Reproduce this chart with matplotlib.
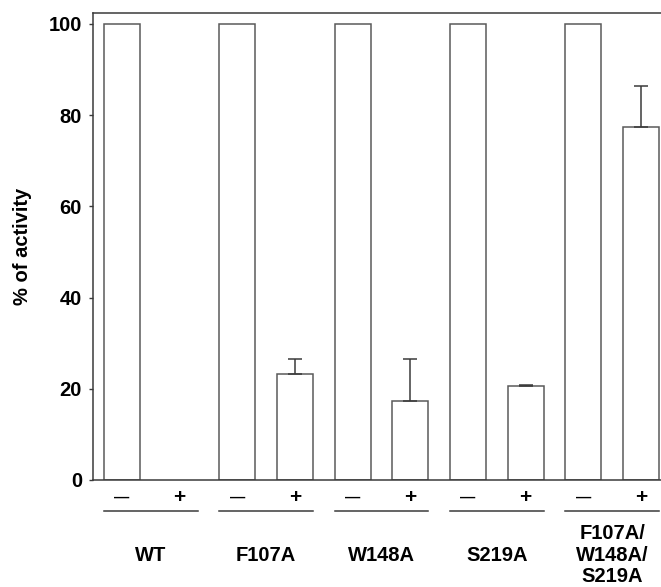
# % de actividad por mutante, sin (−) y con (+) tratamiento
import numpy as np
import matplotlib
matplotlib.use("Agg")
import matplotlib.pyplot as plt

# datos
grupos = ["WT", "F107A", "W148A", "S219A", "F107A/\nW148A/\nS219A"]
menos = [100, 100, 100, 100, 100]
mas = [0, 23.3, 17.3, 20.5, 77.4]
mas_err = [0, 3.3, 9.3, 0.4, 9.0]
signos = ["\u2014", "+"]
yticks = [0, 20, 40, 60, 80, 100]

plt.rcParams["font.family"] = ["Liberation Sans", "DejaVu Sans"]
plt.rcParams["font.weight"] = "bold"

fig = plt.figure(figsize=(6.61, 5.87), dpi=100)
ax = fig.add_axes([0.1407, 0.1823, 0.8593, 0.7956])

x = np.arange(len(grupos))
off = 0.25
w = 0.313
col_borde = "#5a5a5a"
col_eje = "#3a3a3a"

ax.bar(x - off, menos, width=w, color="white", edgecolor=col_borde, linewidth=1.1)
mask = np.array(mas) > 0
ax.bar(x[mask] + off, np.array(mas)[mask], width=w, color="white",
       edgecolor=col_borde, linewidth=1.1)
ax.errorbar(x[mask] + off, np.array(mas)[mask],
            yerr=[np.zeros(mask.sum()), np.array(mas_err)[mask]],
            fmt="none", ecolor=col_eje, elinewidth=1.1, capsize=5, capthick=1.1)

ax.set_xlim(-0.5015, 4.4235)
ax.set_ylim(0, 102.4)
ax.set_yticks(yticks)
ax.set_xticks([])
ax.tick_params(axis="y", direction="out", length=3, width=1, color=col_eje,
               labelsize=14.5, pad=5)
for lbl in ax.get_yticklabels():
    lbl.set_fontweight("bold")

for s in ["left", "top", "bottom"]:
    ax.spines[s].set_color(col_eje)
    ax.spines[s].set_linewidth(1.1)
ax.spines["right"].set_visible(False)

ax.set_ylabel("% of activity", fontsize=14.5, fontweight="bold")
ax.yaxis.set_label_coords(-0.1074, 0.5)

# etiquetas bajo el eje: signos, lineas de grupo y nombres
trans = ax.get_xaxis_transform()
for i, g in enumerate(grupos):
    ax.text(i - off, -0.039, signos[0], transform=trans, ha="center", va="center",
            fontsize=11, fontweight="bold")
    ax.text(i + off, -0.038, signos[1], transform=trans, ha="center", va="center",
            fontsize=15, fontweight="bold")
    ax.plot([i - off - w / 2, i + off + w / 2], [-0.0664, -0.0664], transform=trans,
            color=col_eje, linewidth=1.1, clip_on=False)
    ax.text(i, -0.161, g, transform=trans, ha="center", va="center",
            fontsize=14.5, fontweight="bold", linespacing=1.15)

fig.savefig("out.png", dpi=100)
